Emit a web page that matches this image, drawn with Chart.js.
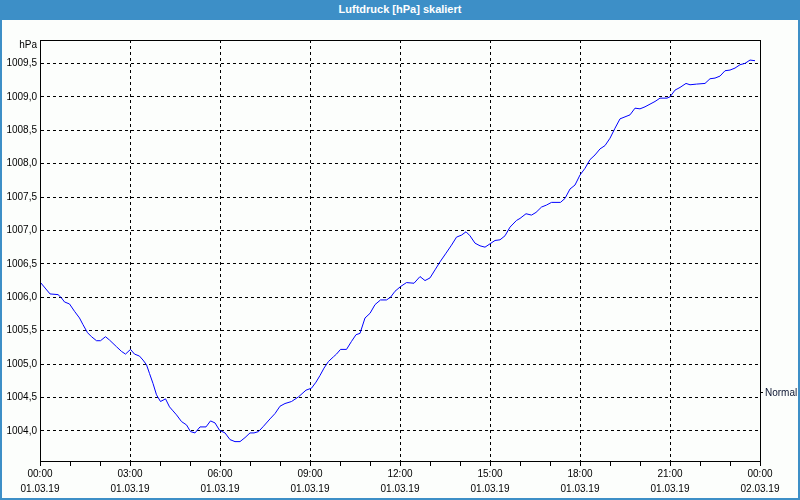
<!DOCTYPE html>
<html>
<head>
<meta charset="utf-8">
<script src="https://cdn.jsdelivr.net/npm/chart.js@4/dist/chart.umd.min.js"></script>
<style>
  html, body { margin: 0; padding: 0; background: #fcfefc; }
  #wrap { position: relative; width: 800px; height: 500px; }
  #myChart { position: absolute; left: 0; top: 0; }
  #frame {
    position: absolute; left: 0; top: 0; width: 800px; height: 500px;
    box-sizing: border-box; border: 2px solid #3d8fc7; border-top: none;
    pointer-events: none;
  }
  #title {
    position: absolute; left: 0; top: 0; width: 800px; height: 20px;
    background: #3d8fc7; color: #fff; text-align: center;
    font: bold 11px "Liberation Sans", sans-serif; line-height: 19px;
  }
</style>
</head>
<body>
<div id="wrap">
  <canvas id="myChart" width="800" height="500"></canvas>
  <div id="frame"></div>
  <div id="title">Luftdruck [hPa] skaliert</div>
</div>
<script>
// minutes since 01.03.19 00:00
const minutes = [
  0, 20, 36, 43, 49, 59, 69, 79, 86, 95, 103, 113, 121, 131, 139, 153, 163, 171, 181, 189,
  199, 206, 213, 219, 226, 233, 241, 251, 259, 266, 273, 283, 293, 301, 310, 320, 332, 341, 350, 359,
  370, 380, 390, 400, 410, 420, 428, 437, 447, 460, 470, 480, 490, 503, 517, 532, 543, 552, 560, 568,
  577, 587, 593, 601, 613, 623, 632, 640, 650, 660, 670, 681, 693, 701, 710, 721, 733, 748, 760, 770,
  780, 790, 800, 812, 823, 833, 843, 852, 860, 870, 880, 890, 900, 910, 920, 930, 940, 953, 960, 972,
  983, 992, 1003, 1013, 1023, 1041, 1050, 1060, 1070, 1080, 1090, 1100, 1110, 1120, 1130, 1140, 1150, 1160, 1170, 1180,
  1190, 1200, 1210, 1220, 1230, 1240, 1254, 1260, 1270, 1280, 1292, 1300, 1313, 1330, 1340, 1350, 1360, 1370, 1380, 1390,
  1400, 1410, 1420, 1430
];
const pressure = [
  1006.23, 1006.05, 1006.04, 1005.99, 1005.93, 1005.90, 1005.79, 1005.69, 1005.59, 1005.47, 1005.41, 1005.35, 1005.35, 1005.41, 1005.36, 1005.26, 1005.19, 1005.15, 1005.22, 1005.15,
  1005.12, 1005.06, 1004.99, 1004.86, 1004.71, 1004.54, 1004.44, 1004.48, 1004.36, 1004.30, 1004.24, 1004.14, 1004.09, 1003.99, 1003.97, 1004.06, 1004.06, 1004.15, 1004.12, 1004.01,
  1003.97, 1003.87, 1003.84, 1003.84, 1003.90, 1003.97, 1003.97, 1003.99, 1004.07, 1004.18, 1004.26, 1004.37, 1004.41, 1004.44, 1004.51, 1004.61, 1004.64, 1004.73, 1004.83, 1004.94,
  1005.04, 1005.11, 1005.15, 1005.22, 1005.22, 1005.34, 1005.44, 1005.46, 1005.69, 1005.76, 1005.89, 1005.96, 1005.96, 1006.00, 1006.09, 1006.16, 1006.22, 1006.21, 1006.31, 1006.25,
  1006.29, 1006.41, 1006.53, 1006.66, 1006.78, 1006.90, 1006.93, 1006.98, 1006.92, 1006.81, 1006.77, 1006.75, 1006.80, 1006.85, 1006.86, 1006.92, 1007.05, 1007.15, 1007.18, 1007.25,
  1007.23, 1007.27, 1007.35, 1007.38, 1007.42, 1007.42, 1007.48, 1007.62, 1007.68, 1007.83, 1007.93, 1008.06, 1008.13, 1008.22, 1008.27, 1008.38, 1008.53, 1008.67, 1008.70, 1008.73,
  1008.83, 1008.82, 1008.85, 1008.89, 1008.93, 1008.98, 1008.98, 1009.00, 1009.10, 1009.14, 1009.20, 1009.18, 1009.19, 1009.20, 1009.27, 1009.28, 1009.31, 1009.39, 1009.40, 1009.43,
  1009.48, 1009.50, 1009.55, 1009.54
];

const yTicks = [1004.0, 1004.5, 1005.0, 1005.5, 1006.0, 1006.5, 1007.0, 1007.5, 1008.0, 1008.5, 1009.0, 1009.5];
const xTickTimes = ["00:00", "03:00", "06:00", "09:00", "12:00", "15:00", "18:00", "21:00", "00:00"];
const xTickDates = ["01.03.19", "01.03.19", "01.03.19", "01.03.19", "01.03.19", "01.03.19", "01.03.19", "01.03.19", "02.03.19"];

const FONT = { family: "'Liberation Sans', sans-serif", size: 10 };

// frame, unit label and legend text
const extras = {
  id: "extras",
  afterDraw(chart) {
    const { ctx, chartArea: a } = chart;
    ctx.save();
    ctx.strokeStyle = "#000";
    ctx.lineWidth = 1;
    ctx.strokeRect(a.left + 0.5, a.top + 0.5, a.right - a.left, a.bottom - a.top);

    ctx.font = "10px 'Liberation Sans', sans-serif";
    ctx.fillStyle = "#000";
    ctx.textBaseline = "middle";
    ctx.textAlign = "right";
    ctx.fillText("hPa", a.left - 3, a.top + 5);

    const ly = a.bottom - 69;
    ctx.beginPath();
    ctx.moveTo(a.right + 1, ly + 0.5);
    ctx.lineTo(a.right + 3, ly + 0.5);
    ctx.stroke();
    ctx.textAlign = "left";
    ctx.fillStyle = "#0a1430";
    ctx.fillText(chart.data.datasets[0].label, a.right + 5, ly + 1);
    ctx.restore();
  }
};

const ctx = document.getElementById("myChart").getContext("2d");
new Chart(ctx, {
  type: "line",
  data: {
    datasets: [
      {
        label: "Normal",
        data: minutes.map((m, i) => ({ x: m, y: pressure[i] })),
        borderColor: "#0000ff",
        borderWidth: 1,
        pointRadius: 0,
        tension: 0,
      },
    ],
  },
  options: {
    responsive: false,
    animation: false,
    layout: { padding: { top: 40, right: 40, left: 0, bottom: 0 } },
    plugins: {
      legend: { display: false },
      tooltip: { enabled: false },
    },
    scales: {
      x: {
        type: "linear",
        min: 0,
        max: 1440,
        afterFit: (s) => { s.height = 39; },
        afterBuildTicks: (s) => {
          s.ticks = [];
          for (let m = 0; m <= 1440; m += 60) s.ticks.push({ value: m });
        },
        ticks: {
          autoSkip: false,
          maxRotation: 0,
          padding: 1,
          color: "#000",
          font: { ...FONT, lineHeight: 1.5 },
          callback: (v) => {
            if (v % 180 !== 0) return "";
            const i = v / 180;
            return [xTickTimes[i], xTickDates[i]];
          },
        },
        grid: {
          color: (c) => (c.tick && c.tick.value % 180 === 0 ? "#000" : "rgba(0,0,0,0)"),
          tickColor: "#000",
          tickLength: 5,
          tickBorderDash: [],
          lineWidth: 1,
        },
        border: { display: true, color: "#000", width: 1, dash: [3, 3] },
      },
      y: {
        type: "linear",
        min: 1003.55,
        max: 1009.85,
        afterFit: (s) => { s.width = 40; },
        afterBuildTicks: (s) => {
          s.ticks = yTicks.map((v) => ({ value: v }));
        },
        ticks: {
          padding: 3,
          color: "#000",
          font: FONT,
          callback: (v) => v.toFixed(1).replace(".", ","),
        },
        grid: {
          color: "#000",
          drawTicks: false,
          lineWidth: 1,
        },
        border: { display: true, color: "#000", width: 1, dash: [3, 3] },
      },
    },
  },
  plugins: [extras],
});
</script>
</body>
</html>
